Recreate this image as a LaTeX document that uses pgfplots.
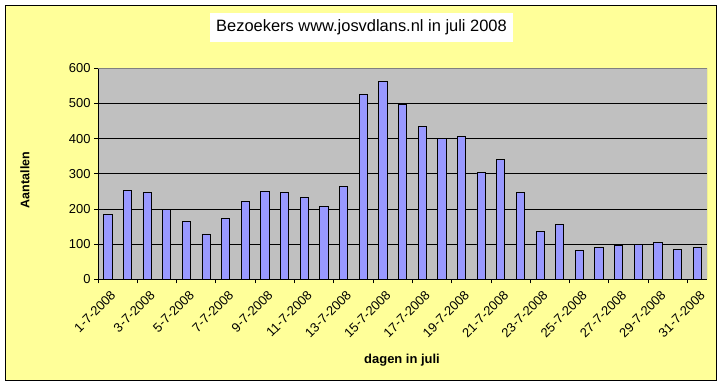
\documentclass[border=0pt]{standalone}
\usepackage{fontspec}
\setmainfont{Liberation Sans}
\usepackage{pgfplots}
\pgfplotsset{compat=1.18}
\definecolor{bg}{HTML}{FFFF99}
\definecolor{plotbg}{HTML}{C0C0C0}
\definecolor{barc}{HTML}{9999FF}
\begin{document}
\begin{tikzpicture}[x=1bp,y=1bp]
\fill[white] (0,0) rectangle (722,386);
\filldraw[fill=bg,draw=black,line width=1bp] (5.5,6) rectangle (716,380.5);
\node[fill=white,minimum width=303bp,minimum height=29bp,inner sep=0pt,font=\fontsize{16.5}{19}\selectfont] at (361.5,358.5) {Bezoekers www.josvdlans.nl in juli 2008};
\node[rotate=90,font=\bfseries\fontsize{12.5}{15}\selectfont] at (25,206) {Aantallen};
\node[font=\bfseries\fontsize{13}{15}\selectfont] at (402,26) {dagen in juli};
\begin{axis}[
  at={(98bp,106.7bp)}, anchor=south west,
  scale only axis, width=609bp, height=211bp,
  ybar, bar width=0.42,
  xmin=0.5, xmax=31.5, ymin=0, ymax=600,
  axis lines=left,
  axis line style={-, black, line width=0.8bp},
  axis background/.style={fill=plotbg},
  ytick={0,100,...,600},
  ymajorgrids, grid style={black, line width=0.8bp},
  xtick={1,3,...,31},
  xticklabels={1-7-2008,3-7-2008,5-7-2008,7-7-2008,9-7-2008,11-7-2008,13-7-2008,15-7-2008,17-7-2008,19-7-2008,21-7-2008,23-7-2008,25-7-2008,27-7-2008,29-7-2008,31-7-2008},
  minor xtick={0.5,2.5,...,30.5},
  major x tick style={draw=none},
  minor x tick style={black, line width=0.8bp},
  major y tick style={black, line width=0.8bp},
  tick align=outside,
  major tick length=4bp, minor tick length=4bp,
  /pgf/number format/assume math mode=true,
  tick label style={font=\fontsize{13}{15}\selectfont},
  xticklabel style={rotate=45, anchor=north east, inner sep=1bp, xshift=-2bp, yshift=-5bp},
]
\addplot[fill=barc, draw=black, line width=0.8bp] coordinates {
(1,185) (2,253) (3,247) (4,199) (5,165) (6,129) (7,173) (8,222)
(9,251) (10,248) (11,234) (12,206) (13,264) (14,526) (15,563) (16,498)
(17,435) (18,401) (19,407) (20,304) (21,341) (22,247) (23,136) (24,157)
(25,82) (26,91) (27,97) (28,100) (29,105) (30,85) (31,91)
};
\draw[black!50, line width=0.8bp] (rel axis cs:0,1) -- (rel axis cs:1,1) -- (rel axis cs:1,0);
\end{axis}
\end{tikzpicture}
\end{document}
